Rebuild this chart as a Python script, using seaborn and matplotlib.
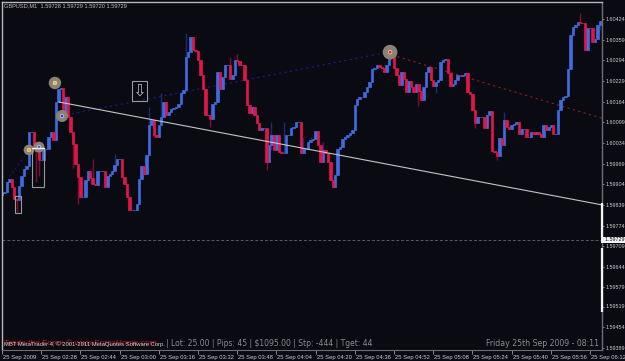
import numpy as np
import pandas as pd
import matplotlib
matplotlib.use("Agg")
import matplotlib.pyplot as plt
from matplotlib.patches import Rectangle
from matplotlib.transforms import ScaledTranslation
import seaborn as sns

# One-minute GBPUSD closes, in 1e-5 price units, oldest first
close_points = [
    159876, 159879, 159910, 159921, 159895, 159858, 159853, 159900, 159931, 159953,
    159963, 160069, 160069, 160021, 160010, 159979, 159979, 160015, 160015, 160053,
    160069, 160042, 160163, 160205, 160208, 160131, 160179, 160115, 160069, 160031,
    159969, 159926, 159863, 159863, 159916, 159945, 159925, 159906, 159901, 159947,
    159947, 159947, 159895, 159931, 159937, 159945, 159965, 159985, 159985, 159926,
    159906, 159863, 159822, 159822, 159822, 159843, 159921, 159963, 159937, 159995,
    160090, 160105, 160058, 160053, 160090, 160115, 160163, 160121, 160130, 160142,
    160145, 160147, 160158, 160190, 160200, 160304, 160320, 160368, 160326, 160324,
    160295, 160247, 160205, 160121, 160121, 160111,
    160158, 160164, 160258, 160205, 160242, 160280, 160280, 160237, 160248, 160296,
    160293, 160280, 160280, 160232, 160153, 160127, 160148, 160121, 160096, 160075,
    160080, 160080, 159975, 160027, 160059, 160011, 160059, 160006, 160001, 160001,
    160060, 160060, 160080, 160083, 160101, 160101, 160001, 160016, 160016, 160037,
    160043, 160048, 160072, 160027, 159975, 160011, 160001, 159975, 159916, 159896,
    159932, 160016, 160021, 160048, 160053, 160059, 160064, 160075, 160153, 160174,
    160180, 160178, 160196, 160211, 160227, 160266, 160269, 160280, 160274, 160269,
    160258, 160280, 160305, 160307, 160269, 160248, 160216,
    160258, 160236, 160194, 160228, 160210, 160194, 160220, 160199, 160168, 160210,
    160258, 160274, 160231, 160215, 160226, 160231, 160290, 160295, 160297, 160254,
    160215, 160220, 160231, 160247, 160244, 160247, 160254, 160194, 160189, 160137,
    160097, 160115, 160115, 160115, 160082, 160121, 160134, 160010, 160005, 159992,
    160050, 160029, 160105, 160084, 160079, 160090, 160095, 160100, 160063, 160079,
    160079, 160053, 160053, 160069, 160063, 160069, 160063, 160053, 160090, 160074,
    160084, 160090, 160063, 160063, 160137, 160168, 160179, 160181, 160268, 160373,
    160400, 160405, 160416, 160413, 160411, 160328, 160395, 160395, 160352, 160363,
    160405, 160419,
]
first_open_point = 159870

# Wicks that reach past the candle body
wick_high_bars = [37, 46, 60, 65, 75, 78, 93, 96, 104, 110, 115, 123, 126, 131, 205, 236]
wick_high_points = [159985, 160000, 160147, 160190, 160380, 160353, 160305, 160315,
                    160110, 160101, 160101, 160054, 160054, 160037, 160131, 160442]
wick_low_bars = [6, 14, 15, 29, 31, 56, 62, 85, 108, 110, 135, 170, 177, 193, 202, 244]
wick_low_points = [159817, 159910, 159931, 159955, 159842, 159906, 160053, 160085,
                   159948, 160011, 159891, 160150, 160190, 160080, 159979, 160390]

price_ticks = [1.60424, 1.60359, 1.60294, 1.60229, 1.60164, 1.60099, 1.60034, 1.59969,
               1.59904, 1.59839, 1.59774, 1.59709, 1.59644, 1.59579, 1.59519, 1.59454,
               1.59389]
time_labels = ["25 Sep 2009", "25 Sep 02:28", "25 Sep 02:44", "25 Sep 03:00",
               "25 Sep 03:16", "25 Sep 03:32", "25 Sep 03:48", "25 Sep 04:04",
               "25 Sep 04:20", "25 Sep 04:36", "25 Sep 04:52", "25 Sep 05:08",
               "25 Sep 05:24", "25 Sep 05:40", "25 Sep 05:56", "25 Sep 06:12"]
last_price = 1.59729

# Drawn analysis objects, as (bar, price) anchors
support_bars, support_prices = [24.0, 157.6], [1.60119, 1.60320]
entry_bars, entry_prices = [3.0, 11.0], [1.59927, 1.60012]
exit_bars, exit_prices = [159.2, 244.9], [1.60311, 1.60112]
trend_bars, trend_prices = [23.3, 244.9], [1.60163, 1.59839]
pivot_bars = [21.6, 11.0, 15.1, 24.5, 158.4]
pivot_prices = [1.60223, 1.60012, 1.60021, 1.60119, 1.60320]
pivot_colors = ["#f0b030", "#f0a030", "#3050f0", "#2040e0", "#f02030"]
pivot_halo_sizes = [80, 59, 62, 75, 112]
box_a = (5.3, 7.8, 1.59813, 1.59867)
box_b = (12.2, 17.1, 1.59895, 1.60018)
box_c = (53.0, 59.2, 1.60166, 1.60229)

BG = "#0a0b12"
BLUE, RED = "#3f6be0", "#e0164a"
DIM_BLUE, DIM_RED = "#1c2c70", "#7c1030"
AXIS_GREY = "#6e6e6e"
SMALL_FONT = "Liberation Sans"

sns.set_theme(style="dark", rc={
    "figure.facecolor": BG, "axes.facecolor": BG, "savefig.facecolor": BG,
    "axes.grid": False,
})
plt.rcParams["font.family"] = [SMALL_FONT, "DejaVu Sans"]

close = np.array(close_points) / 1e5
open_ = np.concatenate(([first_open_point / 1e5], close[:-1]))
high = np.maximum(open_, close)
low = np.minimum(open_, close)
for b, p in zip(wick_high_bars, wick_high_points):
    high[b] = max(high[b], p / 1e5)
for b, p in zip(wick_low_bars, wick_low_points):
    low[b] = min(low[b], p / 1e5)

bars = pd.DataFrame({
    "bar": np.arange(len(close)), "open": open_, "close": close, "high": high, "low": low,
})
bars["bottom"] = bars[["open", "close"]].min(axis=1)
bars["body"] = (bars["close"] - bars["open"]).abs()
bars["up"] = bars["close"] >= bars["open"]

W, H = 625, 361
fig = plt.figure(figsize=(W / 100, H / 100), dpi=100)
ax = fig.add_axes([2 / W, 1 - 350 / H, 600 / W, 348 / H])
ax.set_facecolor(BG)

# Wicks sit behind the bodies in a dimmer tone
ax.vlines(bars["bar"], bars["low"], bars["high"],
          colors=np.where(bars["up"], DIM_BLUE, DIM_RED), linewidth=1.0, zorder=1)

for is_up, color in [(True, BLUE), (False, RED)]:
    part = bars[bars["up"] == is_up]
    sns.barplot(data=part, x="bar", y="body", bottom=part["bottom"].values, native_scale=True,
                color=color, saturation=1, width=1.0, errorbar=None, ax=ax,
                edgecolor=color, linewidth=0.5, zorder=2)

# Trend lines
sns.lineplot(x=trend_bars, y=trend_prices, color="#c4c4c4", linewidth=0.8, ax=ax, zorder=3)
sns.lineplot(x=support_bars, y=support_prices, color="#1c1c88", linewidth=0.8,
             linestyle=(0, (2, 3)), ax=ax, zorder=1)
sns.lineplot(x=entry_bars, y=entry_prices, color="#1c1c70", linewidth=0.7,
             linestyle=(0, (2, 3)), ax=ax, zorder=1)
sns.lineplot(x=exit_bars, y=exit_prices, color="#8c1c20", linewidth=0.8,
             linestyle=(0, (2, 3)), ax=ax, zorder=1)
ax.axhline(last_price, color="#5c5c5c", linewidth=0.7, linestyle=(0, (3, 2)), zorder=1)

# Pivot markers: a muted halo with a small coloured core
sns.scatterplot(x=pivot_bars, y=pivot_prices, size=pivot_halo_sizes,
                sizes={v: v for v in pivot_halo_sizes}, color="#8b8272", linewidth=0,
                legend=False, ax=ax, zorder=4)
sns.scatterplot(x=pivot_bars, y=pivot_prices, s=7, c=pivot_colors, edgecolor="#f4f0e8",
                linewidth=0.4, legend=False, ax=ax, zorder=5)

# Highlight rectangles and the arrow label
for x0, x1, y0, y1 in (box_a, box_b, box_c):
    ax.add_patch(Rectangle((x0, y0), x1 - x0, y1 - y0, fill=False,
                           edgecolor="#9a9a9a", linewidth=0.8, zorder=6))
ax.plot([box_b[0], box_b[1]], [box_b[3], box_b[3]], color="#f0f0f0", linewidth=1.0, zorder=6)
ax.text((box_c[0] + box_c[1]) / 2, (box_c[2] + box_c[3]) / 2, "\u21e9", color="#b0b0b0",
        fontsize=12, family="DejaVu Sans", ha="center", va="center", zorder=6)

ax.set_xlim(0, 244.9)
ax.set_ylim(1.59382, 1.60478)
ax.set_xlabel("")
ax.set_ylabel("")

# Axes: price scale on the right, time scale along the bottom
ax.yaxis.tick_right()
ax.set_yticks(price_ticks, [f"{p:.5f}" for p in price_ticks])
ax.set_xticks(np.arange(len(time_labels)) * 16, time_labels)
ax.tick_params(axis="y", which="both", right=True, length=1.5, width=0.6, color="#9a9a9a",
               labelsize=3.9, labelcolor="#cccccc", pad=0.8)
ax.tick_params(axis="x", which="both", bottom=True, length=3, width=0.6, color="#9a9a9a",
               labelsize=4.2, labelcolor="#cccccc", pad=0.8)
for lab in ax.get_xticklabels():
    lab.set_ha("left")
    lab.set_transform(lab.get_transform() + ScaledTranslation(1 / 100, 0, fig.dpi_scale_trans))

for side, color, lw in (("top", "#b8b8b8", 1.0), ("left", "#b8b8b8", 1.0),
                        ("right", AXIS_GREY, 1.0), ("bottom", AXIS_GREY, 0.8)):
    ax.spines[side].set_visible(True)
    ax.spines[side].set_color(color)
    ax.spines[side].set_linewidth(lw)

# Bright stretches of the price scale and the current-price flag
ax.vlines([244.9, 244.9], [1.59735, 1.59502], [1.59845, 1.59703], colors="#f4f4f4",
          linewidth=1.6, clip_on=False, zorder=7)
ax.text(1.0, last_price, "  1.59729", transform=ax.get_yaxis_transform(), fontsize=3.9,
        color="#101010", ha="left", va="center", clip_on=False, zorder=8,
        bbox=dict(facecolor="#f2f2f2", edgecolor="none", pad=0.6))

# Chart header and status lines
fig.text(4 / W, 1 - 6 / H, "GBPUSD,M1  1.59728 1.59729 1.59720 1.59729",
         fontsize=4.1, color="#c0c0c0", va="center", ha="left")
fig.text(4 / W, 1 - 343.5 / H, "Trade the Forex \u00a9 www.ForexHome.com", fontsize=6.0,
         color="#c01828", va="center", ha="left")
fig.text(4 / W, 1 - 344.5 / H, "MBT MetaTrader 4, \u00a9 2001-2011 MetaQuotes Software Corp.",
         fontsize=4.2, color="#d0d0d0", va="center", ha="left")
fig.text(166 / W, 1 - 344 / H, "| Lot: 25.00 | Pips: 45 | $1095.00 | Stp: -444 | Tget: 44",
         fontsize=5.5, family="DejaVu Sans", color="#8c8c8c", va="center", ha="left")
fig.text(599 / W, 1 - 344 / H, "Friday 25th Sep 2009 - 08:11", fontsize=5.6,
         family="DejaVu Sans", color="#8c8c8c", va="center", ha="right")

fig.savefig("out.png", dpi=100, facecolor=BG)
